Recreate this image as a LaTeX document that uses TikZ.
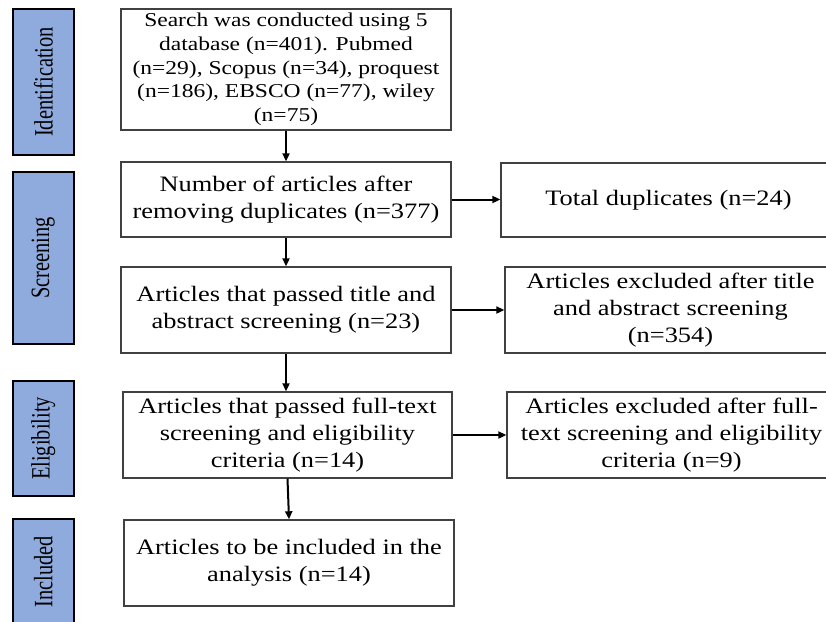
\documentclass[tikz,border=0pt]{standalone}
\usepackage{fontspec}
\setmainfont[FakeStretch=1.2]{Liberation Serif}
\newfontfamily\lblfont[FakeStretch=0.77]{Liberation Serif}
\usetikzlibrary{arrows.meta}
\definecolor{lblblue}{HTML}{8FAADC}
\definecolor{boxline}{HTML}{404040}
\begin{document}
\begin{tikzpicture}[x=1pt,y=-1pt,
  box/.style={draw=boxline, line width=1.4pt, fill=white, inner sep=0pt, align=center,
    font=\fontsize{22}{26.7}\selectfont},
  lbl/.style={draw=black, line width=1.8pt, fill=lblblue, inner sep=0pt, rotate=90,
    minimum height=61pt, font=\lblfont\fontsize{26.5}{30}\selectfont},
  arr/.style={line width=2pt, -{Triangle[length=8pt,width=7pt]}}]
\useasboundingbox (0,0) rectangle (826,621);
\clip (0,0) rectangle (826,621);
% stage labels
\node[lbl, minimum width=146pt] (l1) at (43.3,82) {Identification};
\node[lbl, minimum width=172pt] (l2) at (43.3,258) {Screening};
\node[lbl, minimum width=115pt] (l3) at (43.3,438.5) {Eligibility};
\node[lbl, minimum width=106pt] (l4) at (43.3,572) {Included};
% main column
\node[box, minimum width=330pt, minimum height=121pt, font=\fontsize{19.6}{23.7}\selectfont] (b1) at (286,69.5)
  {Search was conducted using 5\\database (n=401). Pubmed\\(n=29), Scopus (n=34), proquest\\(n=186), EBSCO (n=77), wiley\\(n=75)};
\node[box, minimum width=330pt, minimum height=75pt] (b2) at (286,199.5)
  {Number of articles after\\removing duplicates (n=377)};
\node[box, minimum width=330pt, minimum height=86pt] (b3) at (286,310)
  {Articles that passed title and\\abstract screening (n=23)};
\node[box, minimum width=329pt, minimum height=86pt] (b4) at (287.5,435)
  {Articles that passed full-text\\screening and eligibility\\criteria (n=14)};
\node[box, minimum width=330pt, minimum height=86pt] (b5) at (289,563)
  {Articles to be included in the\\analysis (n=14)};
% right column
\node[box, minimum width=335pt, minimum height=74pt] (r1) at (668.5,200)
  {Total duplicates (n=24)};
\node[box, minimum width=331pt, minimum height=86pt] (r2) at (670.5,310)
  {Articles excluded after title\\and abstract screening\\(n=354)};
\node[box, minimum width=329pt, minimum height=86pt] (r3) at (671.5,435)
  {Articles excluded after full-\\text screening and eligibility\\criteria (n=9)};
% connectors
\draw[arr] (b1.south) -- (b2.north);
\draw[arr] (b2.south) -- (b3.north);
\draw[arr] (b3.south) -- (b3.south |- b4.north);
\draw[arr] (b4.south) -- (b5.north);
\draw[arr] (b2.east) -- (b2.east -| r1.west);
\draw[arr] (b3.east) -- (b3.east -| r2.west);
\draw[arr] (b4.east) -- (b4.east -| r3.west);
\end{tikzpicture}
\end{document}
